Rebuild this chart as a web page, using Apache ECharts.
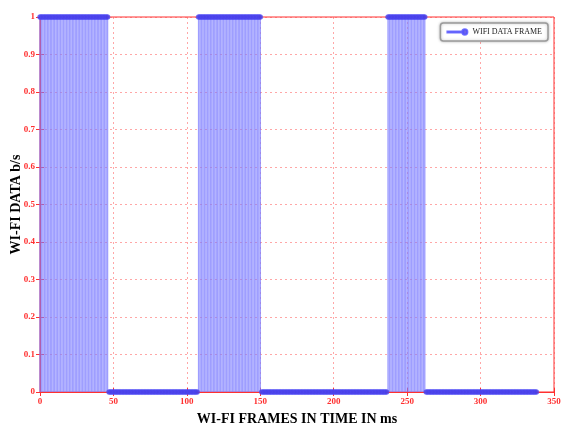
<!DOCTYPE html>
<html>
<head>
<meta charset="utf-8">
<script src="https://cdn.jsdelivr.net/npm/echarts@6/dist/echarts.min.js"></script>
<style>
  html, body { margin: 0; padding: 0; background: #ffffff; }
  #chart { width: 562px; height: 425px; }
</style>
</head>
<body>
<div id="chart"></div>
<script>
// Wi-Fi frame activity, stored as runs of constant level (sampled every 1 ms)
const sampleStep = 1;
const runStart = [0, 47, 108, 151, 237, 263];
const runEnd   = [46, 107, 150, 236, 262, 338];
const runLevel = [1, 0, 1, 0, 1, 0];

const xTicks = [0, 50, 100, 150, 200, 250, 300, 350];
const yTicks = [0, 0.1, 0.2, 0.3, 0.4, 0.5, 0.6, 0.7, 0.8, 0.9, 1];

const seriesName = 'WIFI DATA FRAME';

// expand the runs into individual frame samples
const samples = [];
runStart.forEach(function (s, i) {
  for (let t = s; t <= runEnd[i]; t += sampleStep) samples.push([t, runLevel[i]]);
});

const red = '#ff3030';
const serif = '"Liberation Serif", "DejaVu Serif", serif';

const chart = echarts.init(document.getElementById('chart'), null, { renderer: 'canvas' });

const axisLabelStyle = {
  color: red, fontFamily: serif, fontWeight: 'bold', fontSize: 9
};

chart.setOption({
  animation: false,
  backgroundColor: '#ffffff',
  grid: {
    left: 40, right: 8, top: 17, bottom: 33,
    containLabel: false, outerBoundsMode: 'none',
    show: true, borderColor: red, borderWidth: 1
  },
  legend: {
    data: [{ name: seriesName }],
    right: 14, top: 23,
    padding: [5, 6, 5, 6],
    itemWidth: 20, itemHeight: 6, itemGap: 4,
    icon: 'path://M0,2.5 L15,2.5 L15,3.5 L0,3.5 Z M19,3 A2.5,2.5 0 1,1 14,3 A2.5,2.5 0 1,1 19,3 Z',
    backgroundColor: '#ffffff',
    borderColor: '#9a9a9a', borderWidth: 1.5, borderRadius: 3,
    shadowColor: 'rgba(0,0,0,0.25)', shadowBlur: 3,
    textStyle: { fontFamily: serif, fontSize: 8, color: '#222222' }
  },
  xAxis: [{
    type: 'value', min: 0, max: 350, interval: 50,
    name: 'WI-FI FRAMES IN TIME IN ms', nameLocation: 'middle', nameGap: 20,
    nameMoveOverlap: false,
    nameTextStyle: { fontFamily: serif, fontWeight: 'bold', fontSize: 14, color: '#000000' },
    axisLine: { show: true, lineStyle: { color: red } },
    axisTick: { show: true, inside: true, length: 4, lineStyle: { color: red } },
    axisLabel: Object.assign({ margin: 5 }, axisLabelStyle),
    splitLine: { show: true, lineStyle: { color: 'rgba(255,60,60,0.45)', type: [2, 3] } }
  }, {
    type: 'value', min: 0, max: 350, interval: 50, position: 'top',
    axisLine: { show: true, lineStyle: { color: red } },
    axisTick: { show: true, inside: true, length: 4, lineStyle: { color: red } },
    axisLabel: { show: false }, splitLine: { show: false }
  }],
  yAxis: [{
    type: 'value', min: 0, max: 1, interval: 0.1,
    name: 'WI-FI DATA b/s', nameLocation: 'middle', nameGap: 17, nameRotate: 90,
    nameMoveOverlap: false,
    nameTextStyle: { fontFamily: serif, fontWeight: 'bold', fontSize: 14, color: '#000000' },
    axisLine: { show: true, lineStyle: { color: red } },
    axisTick: { show: true, inside: true, length: 4, lineStyle: { color: red } },
    axisLabel: Object.assign({
      margin: 5,
      formatter: function (v) { return yTicks.indexOf(Math.round(v * 10) / 10) >= 0 ? String(Math.round(v * 10) / 10) : ''; }
    }, axisLabelStyle),
    splitLine: { show: true, lineStyle: { color: 'rgba(255,60,60,0.45)', type: [2, 3] } }
  }, {
    type: 'value', min: 0, max: 1, interval: 0.1, position: 'right',
    axisLine: { show: true, lineStyle: { color: red } },
    axisTick: { show: true, inside: true, length: 4, lineStyle: { color: red } },
    axisLabel: { show: false }, splitLine: { show: false }
  }],
  series: [{
    // stems from the baseline up to each sample
    name: 'stems',
    type: 'custom',
    data: samples,
    encode: { x: 0, y: 1 },
    renderItem: function (params, api) {
      const top = api.coord([api.value(0), api.value(1)]);
      const base = api.coord([api.value(0), 0]);
      return {
        type: 'line',
        shape: { x1: top[0], y1: top[1], x2: base[0], y2: base[1] },
        style: { stroke: 'rgba(125,125,255,0.75)', lineWidth: 1.4 }
      };
    },
    z: 2
  }, {
    name: seriesName,
    type: 'scatter',
    data: samples,
    symbol: 'circle',
    symbolSize: 5,
    itemStyle: { color: '#4a3fe4', borderColor: '#5050ff', borderWidth: 0.5 },
    clip: false,
    z: 3
  }]
});
</script>
</body>
</html>
